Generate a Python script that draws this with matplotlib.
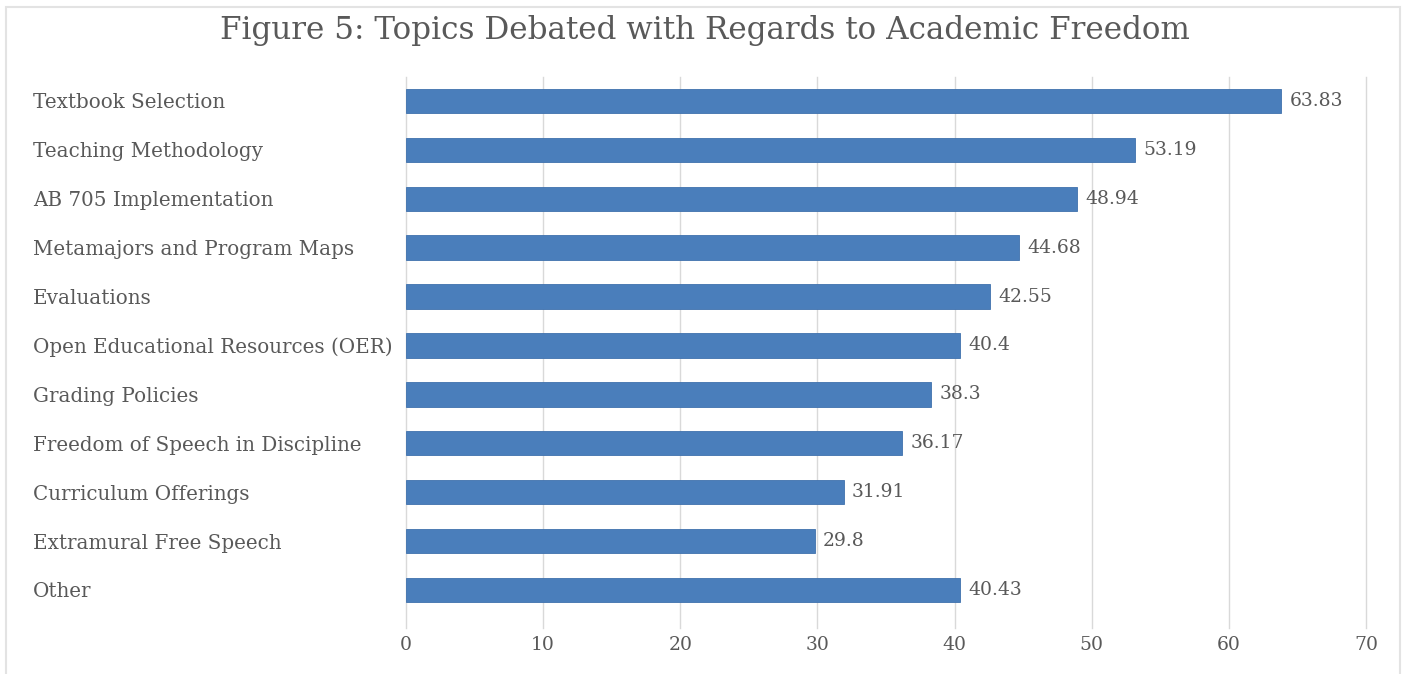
import matplotlib.pyplot as plt
from matplotlib.patches import Rectangle

categories = [
    "Textbook Selection",
    "Teaching Methodology",
    "AB 705 Implementation",
    "Metamajors and Program Maps",
    "Evaluations",
    "Open Educational Resources (OER)",
    "Grading Policies",
    "Freedom of Speech in Discipline",
    "Curriculum Offerings",
    "Extramural Free Speech",
    "Other",
]
values = [63.83, 53.19, 48.94, 44.68, 42.55, 40.4, 38.3, 36.17, 31.91, 29.8, 40.43]
value_labels = ["63.83", "53.19", "48.94", "44.68", "42.55", "40.4", "38.3",
                "36.17", "31.91", "29.8", "40.43"]
x_ticks = [0, 10, 20, 30, 40, 50, 60, 70]

W, H = 1406, 674
FONT = "DejaVu Serif"
TEXT = "#595959"
BAR = "#4a7ebb"
GRID = "#d9d9d9"

fig = plt.figure(figsize=(W / 100, H / 100), dpi=100)
fig.patch.set_facecolor("white")

# light frame around the chart
fig.patches.append(Rectangle((6 / W, -0.02), (1400 - 6) / W, 1.02 - 7 / H,
                             transform=fig.transFigure, fill=False,
                             edgecolor="#e3e3e3", linewidth=1.5))

# plot area: category rows ~48.9 px apart, gridlines run a little below the last bar
row_px = 48.9
left, right = 406 / W, 1366 / W
top_px, bot_px = 76.5, 628
extra = (bot_px - (top_px + row_px * len(categories))) / row_px
ax = fig.add_axes([left, 1 - bot_px / H, right - left, (bot_px - top_px) / H])

y = list(range(len(categories)))
ax.barh(y, values, height=0.5, color=BAR, edgecolor="#3f71ad", linewidth=0.6, zorder=3)

for yi, v, lab in zip(y, values, value_labels):
    ax.annotate(lab, (v, yi), xytext=(6, 0), textcoords="offset points",
                va="center", ha="left", fontsize=13.5, color=TEXT, family=FONT)

ax.set_xlim(0, 70)
ax.set_ylim(len(categories) - 0.5 + extra, -0.5)
ax.set_xticks(x_ticks)
ax.set_xticklabels([str(t) for t in x_ticks], fontsize=13.5, color=TEXT, family=FONT)
ax.set_yticks(y)
ax.set_yticklabels(categories, fontsize=14.3, color=TEXT, family=FONT, ha="left")

ax.tick_params(axis="y", length=0, pad=(406 - 33) * 0.72)
ax.tick_params(axis="x", length=0, pad=6)

ax.grid(axis="x", color=GRID, linewidth=1, zorder=0)
for gl in ax.get_xgridlines():
    gl.set_clip_on(False)
for s in ax.spines.values():
    s.set_visible(False)

fig.text(0.5 + 2 / W, 1 - 31 / H, "Figure 5: Topics Debated with Regards to Academic Freedom",
         ha="center", va="center", fontsize=22.3, color=TEXT, family=FONT)

fig.savefig("out.png", dpi=100)
